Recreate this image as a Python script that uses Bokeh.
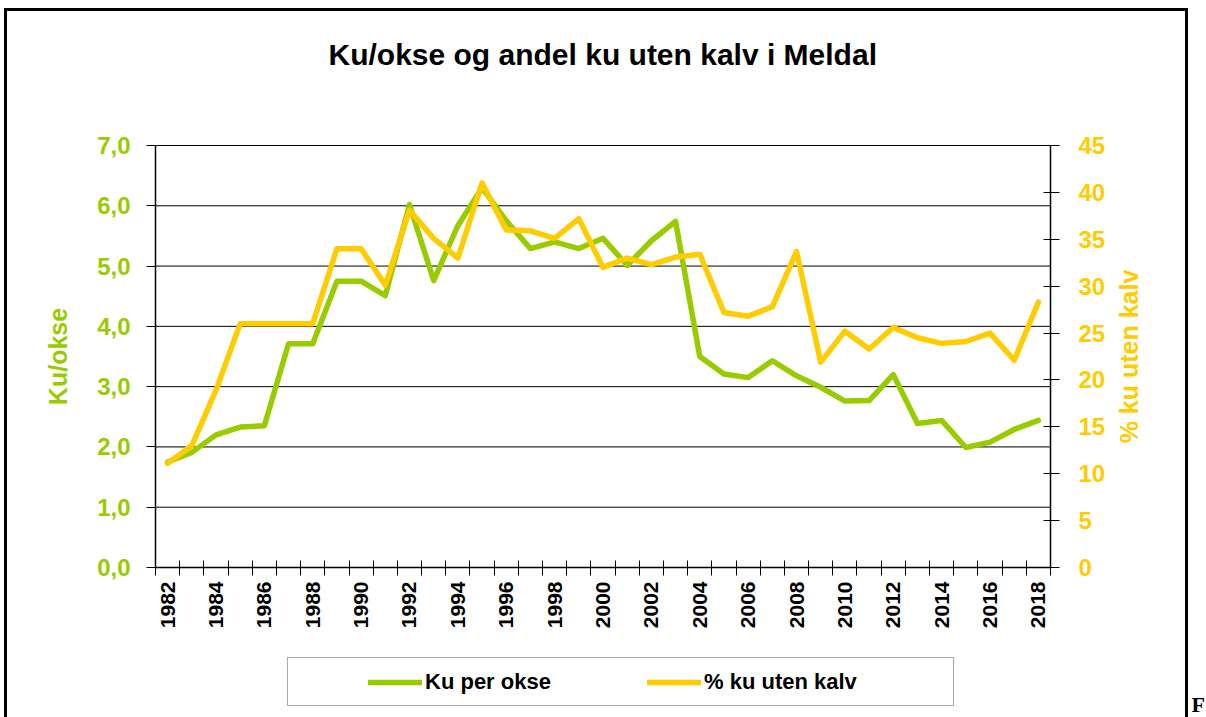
import math
from bokeh.plotting import figure
from bokeh.models import (Range1d, LinearAxis, FixedTicker, CustomJSTickFormatter,
                          Legend, LegendItem, Label, Title)
from bokeh.embed import file_html
from bokeh.resources import INLINE

# ---- data ----
years = [1982, 1983, 1984, 1985, 1986, 1987, 1988, 1989, 1990, 1991,
         1992, 1993, 1994, 1995, 1996, 1997, 1998, 1999, 2000, 2001,
         2002, 2003, 2004, 2005, 2006, 2007, 2008, 2009, 2010, 2011,
         2012, 2013, 2014, 2015, 2016, 2017, 2018]
ku_per_okse = [1.75, 1.91, 2.20, 2.33, 2.35, 3.71, 3.71, 4.75, 4.75, 4.51,
               6.02, 4.76, 5.67, 6.30, 5.75, 5.29, 5.40, 5.29, 5.46, 5.01,
               5.42, 5.74, 3.50, 3.21, 3.15, 3.43, 3.18, 2.99, 2.76, 2.77,
               3.20, 2.39, 2.44, 1.99, 2.08, 2.29, 2.44]
pct_uten_kalv = [11.1, 13.0, 18.9, 26.0, 26.0, 26.0, 26.0, 34.0, 34.0, 30.1,
                 38.1, 35.1, 33.0, 41.0, 36.0, 35.9, 35.1, 37.2, 32.0, 33.0,
                 32.3, 33.1, 33.4, 27.2, 26.8, 27.8, 33.7, 21.9, 25.2, 23.3,
                 25.6, 24.5, 23.9, 24.1, 25.0, 22.1, 28.3]
x_label_years = [1982, 1984, 1986, 1988, 1990, 1992, 1994, 1996, 1998, 2000,
                 2002, 2004, 2006, 2008, 2010, 2012, 2014, 2016, 2018]
left_ticks = [0, 1, 2, 3, 4, 5, 6, 7]
right_ticks = [0, 5, 10, 15, 20, 25, 30, 35, 40, 45]
title_text = "Ku/okse og andel ku uten kalv i Meldal"
left_label = "Ku/okse"
right_label = "% ku uten kalv"
series_names = ["Ku per okse", "% ku uten kalv"]
corner_text = "F"

GREEN = "#99CC00"
YELLOW = "#FFCC00"
FONT = "Liberation Sans"

# ---- geometry (pixels, canvas coordinates) ----
W, H = 1199, 709
AXIS_LEFT = 148        # where the left value axis sits
F_TOP = 117            # top edge of the plotting frame
AXIS_TOP = 137         # where the maximum value sits
CAT_PX = 895           # width of the category area
AXIS_PX = 422          # height of the 0..max value area
LEFT_MAX, RIGHT_MAX = 7, 45

x_lo = years[0] - 0.5
x_hi = years[-1] + 0.5
px_per_x = CAT_PX / (x_hi - x_lo)
x_start = x_lo - AXIS_LEFT / px_per_x
x_end = x_lo + (W - AXIS_LEFT) / px_per_x
px_per_y = AXIS_PX / LEFT_MAX
y_hi = LEFT_MAX + (AXIS_TOP - F_TOP) / px_per_y
y_lo = LEFT_MAX - (H - AXIS_TOP) / px_per_y
pct_lo = y_lo * RIGHT_MAX / LEFT_MAX
pct_hi = y_hi * RIGHT_MAX / LEFT_MAX
zero_px = AXIS_TOP + AXIS_PX
cat_bounds = [y - 0.5 for y in years] + [years[-1] + 0.5]

bg = ("linear-gradient(#000, #000) 0 0 / 1181px 3px no-repeat, "
      "linear-gradient(#000, #000) 1178px 0 / 3px 100% no-repeat, #fff")
p = figure(width=W, height=H, output_backend="svg", toolbar_location=None,
           x_range=Range1d(x_start, x_end), y_range=Range1d(y_lo, y_hi),
           min_border_left=0, min_border_right=0,
           min_border_top=F_TOP, min_border_bottom=0,
           styles={"margin-left": "7px", "margin-top": "8px",
                   "box-shadow": "-3px 0 0 0 #000", "background": bg})
p.outline_line_color = None
p.background_fill_color = None
p.border_fill_color = None
p.extra_y_ranges = {"pct": Range1d(pct_lo, pct_hi)}

# title (+ invisible spacer between title and plot area)
p.title.text = title_text
p.title.align = "left"
p.title.offset = 321
p.title.text_font = FONT
p.title.text_font_size = "30px"
p.title.text_font_style = "bold"
p.title.text_color = "#000000"
p.title.standoff = 10
spacer = Title(text=" ", text_font=FONT, text_font_size="43px", standoff=0)
p.add_layout(spacer, "above")

# horizontal grid lines across the category area only
p.xgrid.visible = False
p.ygrid.visible = False
p.segment(x0=[x_lo] * len(left_ticks), y0=left_ticks,
          x1=[x_hi] * len(left_ticks), y1=left_ticks,
          line_color="#000000", line_width=1)

# x axis, fixed at value 0
xa = p.xaxis[0]
xa.fixed_location = 0
xa.bounds = (x_lo, x_hi)
xa.ticker = FixedTicker(ticks=x_label_years, minor_ticks=cat_bounds)
xa.major_tick_in = 0
xa.major_tick_out = 0
xa.minor_tick_in = 7
xa.minor_tick_out = 8
xa.minor_tick_line_color = "#000000"
xa.minor_tick_line_width = 1
xa.axis_line_color = "#000000"
xa.axis_line_width = 1.5
xa.major_label_orientation = math.pi / 2
xa.major_label_standoff = 6
xa.major_label_text_font = FONT
xa.major_label_text_font_size = "21px"
xa.major_label_text_font_style = "bold"
xa.major_label_text_color = "#000000"

# left axis, fixed at the left end of the categories
ya = p.yaxis[0]
ya.fixed_location = x_lo
ya.bounds = (0, LEFT_MAX)
ya.ticker = FixedTicker(ticks=left_ticks)
ya.formatter = CustomJSTickFormatter(code="return tick.toFixed(1).replace('.', ',');")
ya.major_tick_in = 0
ya.major_tick_out = 9
ya.major_tick_line_color = "#000000"
ya.minor_tick_line_color = None
ya.axis_line_color = "#000000"
ya.axis_line_width = 1.5
ya.major_label_standoff = 16
ya.major_label_text_font = FONT
ya.major_label_text_font_size = "24px"
ya.major_label_text_font_style = "bold"
ya.major_label_text_color = GREEN

# right axis, fixed at the right end of the categories
ra = LinearAxis(y_range_name="pct", ticker=FixedTicker(ticks=right_ticks))
ra.fixed_location = x_hi
ra.bounds = (0, RIGHT_MAX)
ra.major_tick_in = 7
ra.major_tick_out = 9
ra.major_tick_line_color = "#000000"
ra.minor_tick_line_color = None
ra.axis_line_color = "#000000"
ra.axis_line_width = 1.5
ra.major_label_standoff = 19
ra.major_label_text_font = FONT
ra.major_label_text_font_size = "24px"
ra.major_label_text_font_style = "bold"
ra.major_label_text_color = YELLOW
p.add_layout(ra, "right")

# axis titles
p.add_layout(Label(x=x_lo - 98 / px_per_x, y=LEFT_MAX / 2, text=left_label,
                   angle=math.pi / 2, text_align="center", text_baseline="middle",
                   text_font=FONT, text_font_size="25px", text_font_style="bold",
                   text_color=GREEN))
p.add_layout(Label(x=x_hi + 78 / px_per_x, y=RIGHT_MAX / 2, y_range_name="pct",
                   text=right_label, angle=math.pi / 2, text_align="center",
                   text_baseline="middle", text_font=FONT, text_font_size="25px",
                   text_font_style="bold", text_color=YELLOW))

# stray letter at the bottom right corner of the reference
p.add_layout(Label(x=x_lo + (1184 - AXIS_LEFT) / px_per_x,
                   y=-(H - 1 - zero_px) / px_per_y,
                   text=corner_text, text_align="left", text_baseline="bottom",
                   text_font="Liberation Serif", text_font_size="22px",
                   text_font_style="bold", text_color="#000000"))

# series
r_green = p.line(years, ku_per_okse, line_color=GREEN, line_width=5.5,
                 line_join="round", line_cap="round")
r_yellow = p.line(years, pct_uten_kalv, y_range_name="pct", line_color=YELLOW,
                  line_width=5.5, line_join="round", line_cap="round")
r_dummy = p.line([], [], line_alpha=0)

# legend: empty framed box + items drawn over it
box = Legend(items=[LegendItem(label=" ", renderers=[r_dummy])],
             location=(AXIS_LEFT + 132, 11), orientation="horizontal",
             padding=0, margin=0, spacing=0,
             glyph_width=10, glyph_height=47, label_width=655, label_height=47,
             label_standoff=0, border_line_color="#555555", border_line_width=1.5,
             background_fill_color="white", background_fill_alpha=1.0)
p.add_layout(box)

leg = Legend(items=[LegendItem(label=series_names[0], renderers=[r_green]),
                    LegendItem(label=series_names[1], renderers=[r_yellow])],
             location=(AXIS_LEFT + 213, 22), orientation="horizontal",
             padding=0, margin=0, spacing=0,
             glyph_width=54, glyph_height=24, label_width=222, label_height=24,
             label_standoff=3, border_line_alpha=0, background_fill_alpha=0,
             label_text_font=FONT, label_text_font_size="22px",
             label_text_font_style="bold", label_text_color="#000000")
p.add_layout(leg)

open("out.html", "w").write(file_html(p, INLINE))
